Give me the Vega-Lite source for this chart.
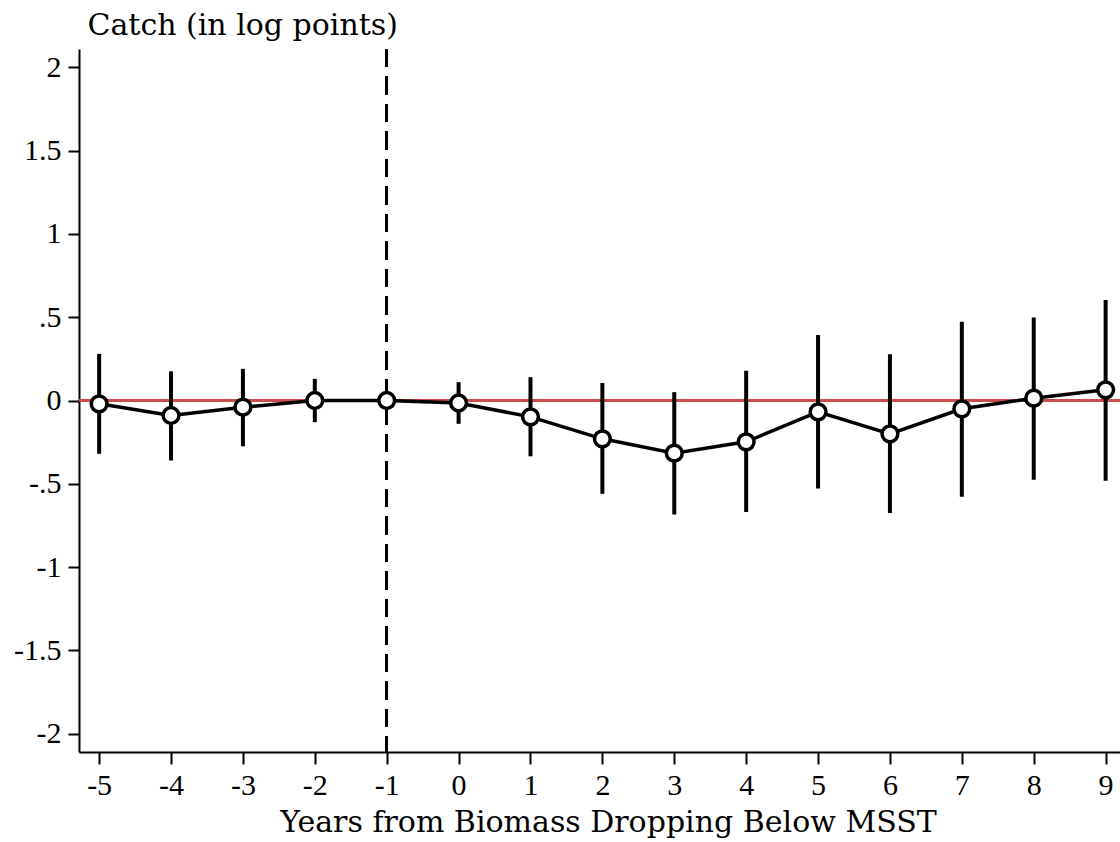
{
  "$schema": "https://vega.github.io/schema/vega-lite/v6.json",
  "autosize": "none",
  "width": 1041,
  "height": 703,
  "padding": {"left": 79, "top": 49, "right": 0, "bottom": 90},
  "background": "white",
  "config": {
    "view": {"stroke": null},
    "font": "Liberation Serif",
    "axis": {
      "grid": false,
      "domainColor": "black",
      "domainWidth": 2,
      "tickColor": "black",
      "tickWidth": 2,
      "labelColor": "black",
      "titleColor": "black",
      "labelFont": "Liberation Serif",
      "titleFont": "DejaVu Serif",
      "labelFontSize": 30,
      "titleFontSize": 30,
      "titleFontWeight": "normal"
    }
  },
  "data": {
    "values": [
      {"year": -5, "est": -0.02, "lo": -0.32, "hi": 0.28},
      {"year": -4, "est": -0.09, "lo": -0.36, "hi": 0.175},
      {"year": -3, "est": -0.04, "lo": -0.275, "hi": 0.19},
      {"year": -2, "est": 0.0, "lo": -0.13, "hi": 0.13},
      {"year": -1, "est": 0.0, "lo": 0.0, "hi": 0.0},
      {"year": 0, "est": -0.015, "lo": -0.14, "hi": 0.11},
      {"year": 1, "est": -0.098, "lo": -0.335, "hi": 0.14},
      {"year": 2, "est": -0.23, "lo": -0.56, "hi": 0.105},
      {"year": 3, "est": -0.316, "lo": -0.684, "hi": 0.05},
      {"year": 4, "est": -0.248, "lo": -0.67, "hi": 0.178},
      {"year": 5, "est": -0.068, "lo": -0.528, "hi": 0.393},
      {"year": 6, "est": -0.2, "lo": -0.676, "hi": 0.278},
      {"year": 7, "est": -0.05, "lo": -0.578, "hi": 0.472},
      {"year": 8, "est": 0.014, "lo": -0.476, "hi": 0.498},
      {"year": 9, "est": 0.064, "lo": -0.482, "hi": 0.604}
    ]
  },
  "layer": [
    {
      "mark": {"type": "rule", "color": "#cc4c4c", "strokeWidth": 2.2},
      "encoding": {"y": {"datum": 0, "type": "quantitative"}}
    },
    {
      "mark": {"type": "rule", "color": "black", "strokeWidth": 2.4, "strokeDash": [18, 9.5]},
      "encoding": {"x": {"datum": -1, "type": "quantitative"}}
    },
    {
      "mark": {"type": "rule", "color": "black", "strokeWidth": 4},
      "encoding": {
        "x": {"field": "year", "type": "quantitative"},
        "y": {"field": "lo", "type": "quantitative"},
        "y2": {"field": "hi"}
      }
    },
    {
      "mark": {"type": "line", "color": "black", "strokeWidth": 3.5},
      "encoding": {
        "x": {"field": "year", "type": "quantitative"},
        "y": {"field": "est", "type": "quantitative"}
      }
    },
    {
      "mark": {"type": "point", "filled": true, "fill": "white", "stroke": "black", "strokeWidth": 3.5, "size": 250, "opacity": 1},
      "encoding": {
        "x": {
          "field": "year",
          "type": "quantitative",
          "scale": {"domain": [-5.28, 9.2], "nice": false, "zero": false},
          "axis": {
            "values": [-5, -4, -3, -2, -1, 0, 1, 2, 3, 4, 5, 6, 7, 8, 9],
            "labelExpr": "(datum.value < 0 ? '-' : '') + toString(abs(datum.value))",
            "tickSize": 12,
            "labelPadding": 6,
            "title": "Years from Biomass Dropping Below MSST",
            "titleBaseline": "alphabetic",
            "titleX": 529,
            "titleY": 79
          }
        },
        "y": {
          "field": "est",
          "type": "quantitative",
          "scale": {"domain": [-2.11, 2.11], "nice": false, "zero": false},
          "axis": {
            "values": [-2, -1.5, -1, -0.5, 0, 0.5, 1, 1.5, 2],
            "labelExpr": "(datum.value < 0 ? '-' : '') + replace(toString(abs(datum.value)), '0.', '.')",
            "tickSize": 11,
            "labelPadding": 7,
            "title": "Catch (in log points)",
            "titleAngle": 0,
            "titleAlign": "left",
            "titleBaseline": "alphabetic",
            "titleX": 8,
            "titleY": -15
          }
        }
      }
    }
  ]
}
